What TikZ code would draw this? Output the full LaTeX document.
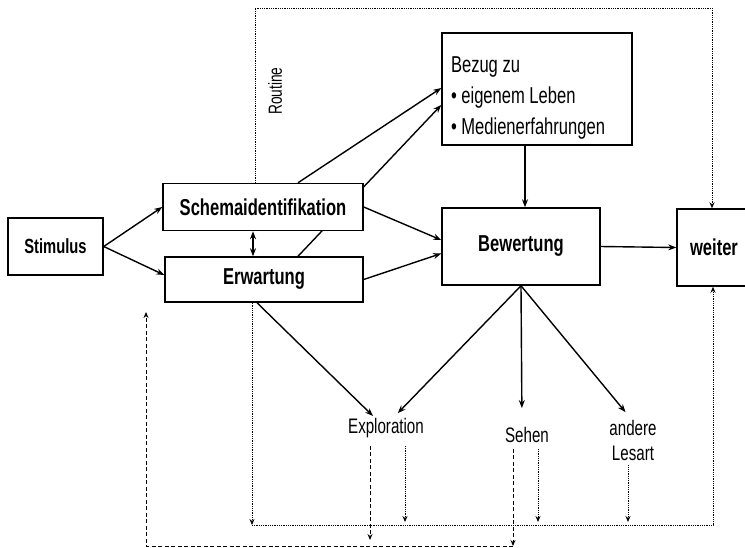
\documentclass[tikz,border=0pt]{standalone}
\usepackage{fontspec}
\setmainfont[FakeStretch=0.72]{Liberation Sans}
\usetikzlibrary{arrows.meta,backgrounds}
\newcommand\tightsp{\spaceskip=0.2em\relax}

\begin{document}
\begin{tikzpicture}[x=1pt,y=-1pt,
	>={Stealth[length=8pt,width=6pt]},
	box/.style={draw=black,line width=1.5pt,fill=white,inner sep=0pt,align=center,
		font=\fontsize{23}{25}\selectfont\bfseries},
	lbl/.style={inner sep=2pt,align=center,font=\fontsize{21}{25}\selectfont},
	arr/.style={line width=1.4pt},
	dotline/.style={densely dotted,line width=0.8pt,-{Stealth[length=6pt,width=5pt]}},
	dashline/.style={dash pattern=on 4pt off 2.5pt,line width=0.9pt,-{Stealth[length=6pt,width=5pt]}}]
	\useasboundingbox (0,0) rectangle (745,547);
	
	\node[box,minimum width=95pt,minimum height=57pt,font=\fontsize{20.5}{22}\selectfont\bfseries] (n0) at (55.5,246.5) {Stimulus};
	\node[box,minimum width=200pt,minimum height=47pt] (n1) at (263,207) {Schemaidentifikation};
	\node[box,minimum width=198pt,minimum height=45pt] (n2) at (264,279.5) {Erwartung};
	\node[box,minimum width=190pt,minimum height=112pt,text width=172pt,align=left,
		font=\fontsize{23}{31}\selectfont] (n3) at (537,89) {\tightsp\rule{0pt}{34pt}Bezug zu\\\textbullet{} eigenem Leben\\\textbullet{} Medienerfahrungen};
	\node[box,minimum width=158pt,minimum height=77pt] (n4) at (521,246.5) {Bewertung};
	\node[box,minimum width=74pt,minimum height=77pt] (n5) at (714,247.5) {weiter};
	
	\node[lbl] (t0) at (386,428) {Exploration};
	\node[lbl] (t1) at (527,435) {Sehen};
	\node[lbl] (t2) at (633,440) {andere\\Lesart};
	\node[lbl,rotate=90,font=\fontsize{19}{21}\selectfont] (r0) at (275,91) {Routine};
	
	\coordinate (c0) at ([xshift=4pt]n4.north);
	\coordinate (rtl) at (255,8);
	\coordinate (rtr) at (712,8);
	\coordinate (rbl) at (252,525);
	\coordinate (rbr) at (713,525);
	\coordinate (dbl) at (146,546);
	\coordinate (dbr) at (513,546);
	\coordinate (dup) at (146,312);
	
	\draw[arr,->] (n0.east) -- (n1.west);
	\draw[arr,->] (n0.east) -- ([yshift=4.5pt]n2.west);
	\draw[arr,<->] ([xshift=-10pt]n1.south) -- ([xshift=-11pt]n2.north);
	\draw[arr,->] ([xshift=35pt]n1.north) -- ([yshift=1pt]n3.west);
	\begin{scope}[on background layer]
	\draw[arr,->] ([xshift=34pt]n2.north) -- ([yshift=-16pt]n3.west);
	\end{scope}
	\draw[arr,->] (n1.east) -- ([yshift=6.5pt]n4.west);
	\draw[arr,->] (n2.east) -- ([yshift=-7pt]n4.west);
	\draw[arr,->] (c0 |- n3.south) -- (c0);
	\draw[arr,->] (n4.east) -- (n5.west);
	\draw[arr,->] ([xshift=-7pt]n2.south) -- ([xshift=-13pt]t0.north);
	\draw[arr,->,shorten >=4pt] (n4.south) -- ([xshift=9pt]t0.north);
	\draw[arr,->,shorten >=17pt] (n4.south) -- ([xshift=-5pt]t1.north);
	\draw[arr,->,shorten >=7pt] (n4.south) -- ([xshift=-3pt]t2.north);
	
	\draw[dotline] (n1.north -| rtl) |- (rtr) -- (rtr |- n5.north);
	\draw[dotline] (n2.south -| rbl) -- (rbl);
	\draw[dotline] (rbl) -- (rbr) -- (rbr |- n5.south);
	\draw[dotline,shorten <=6pt,shorten >=3pt] ([xshift=19pt]t0.south) -- ([xshift=19pt]t0.south |- rbl);
	\draw[dotline,shorten <=4pt,shorten >=3pt] ([xshift=11pt]t1.south) -- ([xshift=11pt]t1.south |- rbl);
	\draw[dotline,shorten <=3pt,shorten >=3pt] ([xshift=-5pt]t2.south) -- ([xshift=-5pt]t2.south |- rbl);
	
	\draw[dashline,shorten <=6pt,shorten >=6pt] ([xshift=-16pt]t0.south) -- ([xshift=-16pt]t0.south |- dbl);
	\draw[dashline,shorten <=4pt] ([xshift=-14pt]t1.south) -- (dbr);
	\draw[dashline] (dbr) -- (dbl) -- (dup);
\end{tikzpicture}
\end{document}
